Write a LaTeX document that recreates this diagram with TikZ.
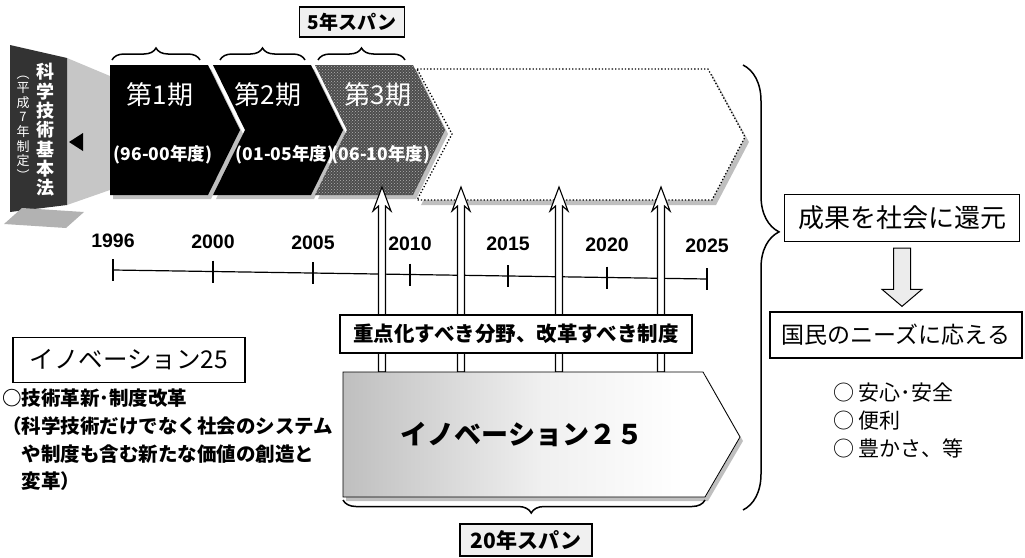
\documentclass[tikz,border=0pt]{standalone}
\usepackage{fontspec}
\setmainfont{Noto Sans CJK JP}
\newfontfamily\jp{Noto Sans CJK JP}
\newfontfamily\yearfont{Liberation Sans}
\usetikzlibrary{calc,decorations.pathreplacing,patterns}
\newcommand{\fsz}[1]{\fontsize{#1}{#1}\selectfont}
\pgfdeclarehorizontalshading{innovshade}{100bp}{color(0bp)=(black!75); color(22bp)=(gray!55); color(50bp)=(gray!12); color(68bp)=(white); color(100bp)=(white)}
\tikzset{
  dropgray/.style={fill=gray!50},
  textbox/.style={draw, line width=1.3pt, fill=white, inner sep=0pt},
  spanbox/.style={textbox, fill=gray!12, font=\jp\bfseries\fsz{19}},
  hollowarrow/.style={draw, line width=1.1pt, fill=white},
  yearlabel/.style={font=\yearfont\bfseries\fsz{19.5}},
  brc/.style={decorate, decoration={brace, amplitude=#1}, line width=1.5pt},
  brc/.default=12,
}
\begin{document}
\begin{tikzpicture}[x=1pt,y=-1pt]
\useasboundingbox (0,0) rectangle (1025,557);

% law panel on the left
\fill[gray!45] (67,58) -- (110,76) -- (110,190) -- (67,205) -- cycle;
\fill[black!80] (10,45) -- (67,58) -- (67,205) -- (10,212) -- cycle;
\fill[black] (83,133) -- (69,142) -- (83,151) -- cycle;
\fill[gray!60] (4,224) -- (22,208) -- (84,212) -- (66,228) -- cycle;
\node[text=white, align=center, inner sep=0pt, font=\jp\bfseries\fontsize{18}{19.3}\selectfont] (law) at (45,130) {科\\学\\技\\術\\基\\本\\法};
\node[text=white, align=center, inner sep=0pt, font=\jp\fontsize{13}{14.6}\selectfont] (lawyear) at (23,128) {︵\\平\\成\\7\\年\\制\\定\\︶};

% future periods (dotted)
\fill[dropgray, shift={(4,5)}] (417,69) -- (708,69) -- (745,137) -- (712,200) -- (417,200) -- (452,134) -- cycle;
\draw[fill=white, dotted, line width=1.3pt] (417,69) -- (708,69) -- (745,137) -- (712,200) -- (417,200) -- (452,134) -- cycle;

% the three periods
\fill[dropgray, shift={(3,4)}] (110,65) -- (208,65) -- (240,130) -- (208,195) -- (110,195) -- cycle;
\fill[dropgray, shift={(3,4)}] (213,65) -- (311,65) -- (343,130) -- (311,195) -- (213,195) -- (245,130) -- cycle;
\fill[dropgray, shift={(3,4)}] (315,65) -- (413,65) -- (445,130) -- (413,195) -- (315,195) -- (347,130) -- cycle;
\fill[black] (110,65) -- (208,65) -- (240,130) -- (208,195) -- (110,195) -- cycle;
\fill[black] (213,65) -- (311,65) -- (343,130) -- (311,195) -- (213,195) -- (245,130) -- cycle;
\fill[black!70] (315,65) -- (413,65) -- (445,130) -- (413,195) -- (315,195) -- (347,130) -- cycle;
\fill[pattern=crosshatch dots, pattern color=gray!60] (315,65) -- (413,65) -- (445,130) -- (413,195) -- (315,195) -- (347,130) -- cycle;

\node[text=white, font=\jp\fsz{26}] (p1) at (160,95) {第1期};
\node[text=white, font=\jp\fsz{26}] (p2) at (268,95) {第2期};
\node[text=white, font=\jp\fsz{26}] (p3) at (378,95) {第3期};
\node[text=white, font=\jp\bfseries\fsz{17.5}] (y1) at (163,155) {(96-00年度)};
\node[text=white, font=\jp\bfseries\fsz{17.5}] (y2) at (285,155) {(01-05年度)};
\node[text=white, font=\jp\bfseries\fsz{17.5}] (y3) at (381,155) {(06-10年度)};

\draw[brc] (112,60) -- (200,60);
\draw[brc] (220,60) -- (305,60);
\draw[brc] (318,60) -- (405,60);
\node[spanbox, minimum width=105, minimum height=30] (span5) at (352,22) {5年スパン};

% time line
\foreach \yy/\x [count=\i from 0] in {1996/113,2000/213,2005/313,2010/410,2015/508,2020/607,2025/707} {
  \node[yearlabel] (yr\yy) at (\x,{241+0.8*\i}) {\yy};
  \coordinate (tick\i) at (\x,{270+1.5*\i});
  \draw[line width=1.2pt] (tick\i) ++(0,-11) -- ++(0,22);
}
\draw[line width=1.2pt] (tick0) -- (tick6);

% arrows up to the periods
\foreach \x [count=\i] in {382,461,559,661} {
  \coordinate (foot\i) at (\x,372);
  \coordinate (tip\i) at (\x,187);
  \draw[hollowarrow] ($(foot\i)+(-3.5,0)$) -- ($(tip\i)+(-3.5,19)$) -- ($(tip\i)+(-9,24)$) -- (tip\i)
    -- ($(tip\i)+(9,24)$) -- ($(tip\i)+(3.5,19)$) -- ($(foot\i)+(3.5,0)$) -- cycle;
}

% innovation 25
\fill[dropgray, shift={(3,4)}] (343,372) -- (703,372) -- (740,437) -- (705,497) -- (343,497) -- cycle;
\shadedraw[shading=innovshade, line width=0.8pt] (343,372) -- (703,372) -- (740,437) -- (705,497) -- (343,497) -- cycle;
\node[font=\jp\bfseries\fsz{27}] (innovtitle) at (522,434) {イノベーション２５};
\node[textbox, minimum width=352, minimum height=38, font=\jp\bfseries\fsz{20.5}] (focus) at (516,334) {重点化すべき分野、改革すべき制度};

\draw[brc=13, decoration={aspect=0.48}] (705,500) -- (343,500);
\node[spanbox, minimum width=132, minimum height=32, font=\jp\bfseries\fsz{21}] (span20) at (526,540) {20年スパン};

% left notes
\node[textbox, minimum width=232, minimum height=45, font=\jp\fsz{24.5}] (innovbox) at (129,360) {イノベーション25};
\node[anchor=north west, align=left, inner sep=0pt, font=\jp\bfseries\fontsize{19.5}{27.7}\selectfont] (innovnote) at (2,389)
  {○技術革新･制度改革\\（科学技術だけでなく社会のシステム\\　や制度も含む新たな価値の創造と\\　変革）};

% outcome on the right
\draw[brc=36, decoration={aspect=0.375}] (743,65) -- (743,510);
\node[textbox, minimum width=235, minimum height=47, font=\jp\fsz{26}] (result) at (902,218) {成果を社会に還元};
\node[textbox, minimum width=252, minimum height=46, font=\jp\fsz{23}] (needs) at (896,335) {国民のニーズに応える};
\coordinate (dtop) at ($(result.south)+(0,6)$);
\coordinate (dtip) at ($(result.south |- needs.north)+(0,-5)$);
\draw[fill=gray!15, line width=1pt] ($(dtop)+(-8.5,0)$) -- ($(dtip)+(-8.5,-17)$) -- ($(dtip)+(-20,-17)$) -- (dtip)
  -- ($(dtip)+(20,-17)$) -- ($(dtip)+(8.5,-17)$) -- ($(dtop)+(8.5,0)$) -- cycle;
\node[anchor=west, align=left, inner sep=0pt, font=\jp\fontsize{21}{28}\selectfont] (benefits) at (833,420) {○ 安心･安全\\○ 便利\\○ 豊かさ、等};

\end{tikzpicture}
\end{document}
